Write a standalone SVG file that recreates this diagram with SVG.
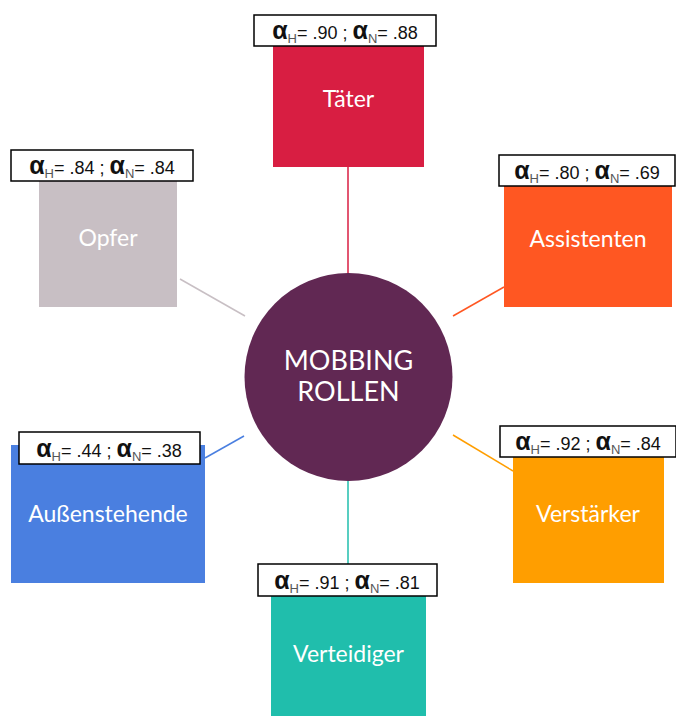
<svg xmlns="http://www.w3.org/2000/svg" width="676" height="716" viewBox="0 0 676 716">
<style>
.box-t{font-family:Lato,"Liberation Sans",sans-serif;font-size:23px;fill:#ffffff;text-anchor:middle}
.lbl{fill:#ffffff;stroke:#000000;stroke-width:1.5}
.lt{font-family:"Liberation Sans",Arial,sans-serif;font-size:18px;fill:#111111;text-anchor:middle}
.a{font-size:25px;font-weight:bold}
.s{font-size:13px;fill:#555555}
.c{stroke-width:1.5;fill:none}
</style>
<rect width="676" height="716" fill="#ffffff"/>
<g id="connectors">
<line class="c" x1="348" y1="167" x2="348" y2="274" stroke="#D81E42"/>
<line class="c" x1="180" y1="279" x2="245" y2="316" stroke="#C8BFC4"/>
<line class="c" x1="453" y1="316" x2="504" y2="287" stroke="#FF5722"/>
<line class="c" x1="205" y1="458" x2="244" y2="436" stroke="#4A7FE0"/>
<line class="c" x1="453" y1="435" x2="513" y2="471" stroke="#FF9E00"/>
<line class="c" x1="348" y1="480" x2="348" y2="564" stroke="#20BEAC"/>
</g>
<g id="center">
<circle cx="348.5" cy="377" r="104" fill="#612853"/>
<text font-family="Lato,'Liberation Sans',sans-serif" font-size="27" fill="#ffffff" text-anchor="middle"><tspan x="348.5" y="370">MOBBING</tspan><tspan x="348.5" y="401">ROLLEN</tspan></text>
</g>
<g id="taeter">
<rect x="273" y="40" width="151" height="127" fill="#D81E42"/>
<text class="box-t" x="348.5" y="107">Täter</text>
<rect class="lbl" x="254" y="15" width="182" height="31"/>
<text class="lt" x="345" y="39"><tspan class="a">α</tspan><tspan class="s" dy="4">H</tspan><tspan dy="-4">= .90 ; </tspan><tspan class="a">α</tspan><tspan class="s" dy="4">N</tspan><tspan dy="-4">= .88</tspan></text>
</g>
<g id="opfer">
<rect x="39" y="176" width="138" height="131" fill="#C8BFC4"/>
<text class="box-t" x="108" y="246">Opfer</text>
<rect class="lbl" x="11" y="150" width="182" height="31"/>
<text class="lt" x="102" y="174"><tspan class="a">α</tspan><tspan class="s" dy="4">H</tspan><tspan dy="-4">= .84 ; </tspan><tspan class="a">α</tspan><tspan class="s" dy="4">N</tspan><tspan dy="-4">= .84</tspan></text>
</g>
<g id="assistenten">
<rect x="504" y="180" width="168" height="127" fill="#FF5722"/>
<text class="box-t" x="588" y="247">Assistenten</text>
<rect class="lbl" x="499" y="155" width="176" height="31"/>
<text class="lt" x="587" y="179"><tspan class="a">α</tspan><tspan class="s" dy="4">H</tspan><tspan dy="-4">= .80 ; </tspan><tspan class="a">α</tspan><tspan class="s" dy="4">N</tspan><tspan dy="-4">= .69</tspan></text>
</g>
<g id="aussenstehende">
<rect x="11" y="445" width="194" height="138" fill="#4A7FE0"/>
<text class="box-t" x="108" y="522">Außenstehende</text>
<rect class="lbl" x="19" y="432" width="181" height="32"/>
<text class="lt" x="109" y="457"><tspan class="a">α</tspan><tspan class="s" dy="4">H</tspan><tspan dy="-4">= .44 ; </tspan><tspan class="a">α</tspan><tspan class="s" dy="4">N</tspan><tspan dy="-4">= .38</tspan></text>
</g>
<g id="verstaerker">
<rect x="513" y="450" width="151" height="133" fill="#FF9E00"/>
<text class="box-t" x="588" y="522">Verstärker</text>
<rect class="lbl" x="500" y="426" width="176" height="31"/>
<text class="lt" x="588" y="450"><tspan class="a">α</tspan><tspan class="s" dy="4">H</tspan><tspan dy="-4">= .92 ; </tspan><tspan class="a">α</tspan><tspan class="s" dy="4">N</tspan><tspan dy="-4">= .84</tspan></text>
</g>
<g id="verteidiger">
<rect x="271" y="590" width="155" height="126" fill="#20BEAC"/>
<text class="box-t" x="348.5" y="662">Verteidiger</text>
<rect class="lbl" x="258" y="564" width="179" height="32"/>
<text class="lt" x="347" y="589"><tspan class="a">α</tspan><tspan class="s" dy="4">H</tspan><tspan dy="-4">= .91 ; </tspan><tspan class="a">α</tspan><tspan class="s" dy="4">N</tspan><tspan dy="-4">= .81</tspan></text>
</g>
</svg>
